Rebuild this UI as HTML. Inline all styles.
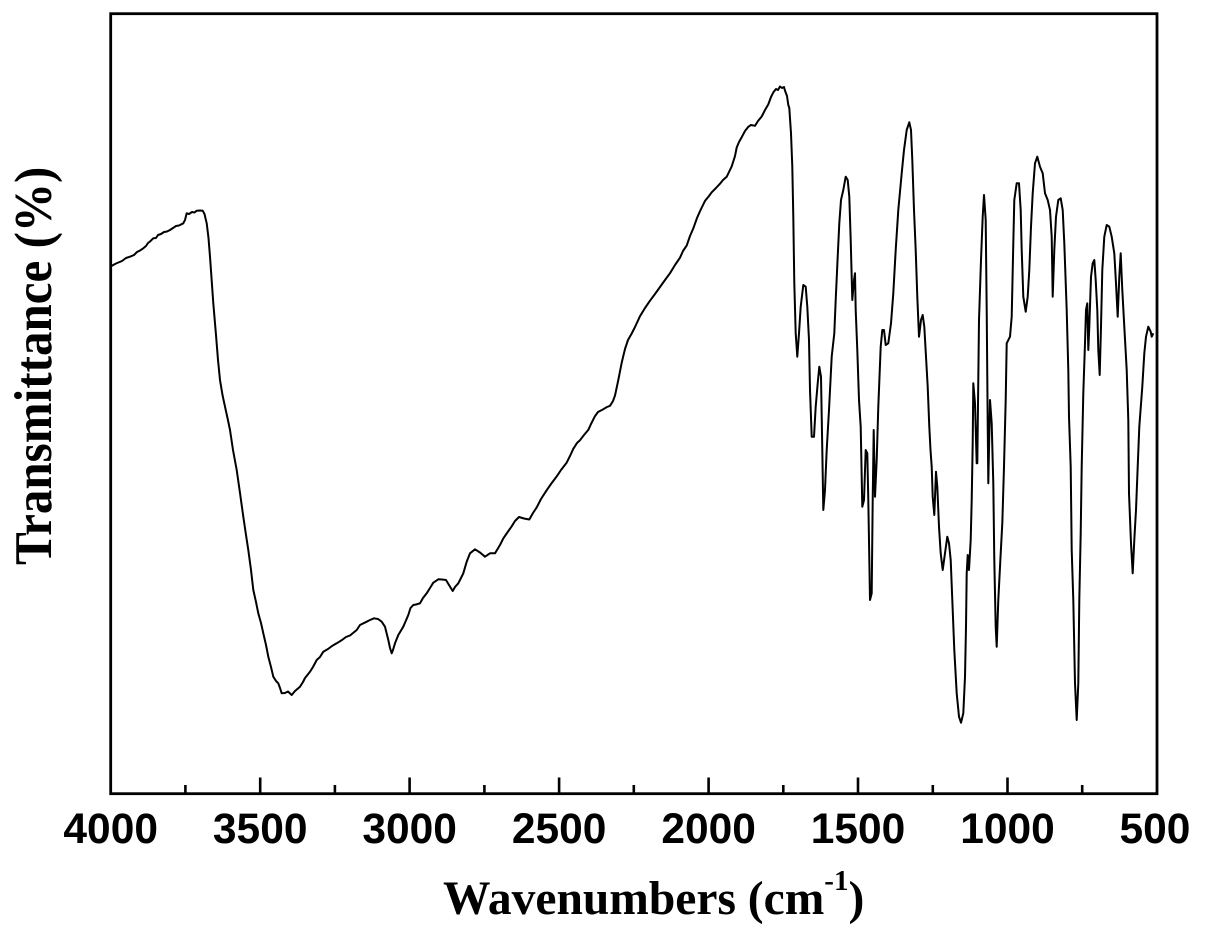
<!DOCTYPE html>
<html>
<head>
<meta charset="utf-8">
<style>
html,body{margin:0;padding:0;background:#fff;}
svg{display:block;}
</style>
</head>
<body>
<svg width="1206" height="937" viewBox="0 0 1206 937" xmlns="http://www.w3.org/2000/svg">
<rect x="0" y="0" width="1206" height="937" fill="#fff"/>
<!-- frame -->
<rect x="110.7" y="13.7" width="1046.3" height="780" fill="none" stroke="#000" stroke-width="2.8"/>
<!-- ticks -->
<g stroke="#000" stroke-width="2.6">
<line x1="260.2" y1="793.7" x2="260.2" y2="777.5"/>
<line x1="409.6" y1="793.7" x2="409.6" y2="777.5"/>
<line x1="559.1" y1="793.7" x2="559.1" y2="777.5"/>
<line x1="708.6" y1="793.7" x2="708.6" y2="777.5"/>
<line x1="858.0" y1="793.7" x2="858.0" y2="777.5"/>
<line x1="1007.5" y1="793.7" x2="1007.5" y2="777.5"/>
<line x1="185.4" y1="793.7" x2="185.4" y2="785"/>
<line x1="334.9" y1="793.7" x2="334.9" y2="785"/>
<line x1="484.4" y1="793.7" x2="484.4" y2="785"/>
<line x1="633.8" y1="793.7" x2="633.8" y2="785"/>
<line x1="783.3" y1="793.7" x2="783.3" y2="785"/>
<line x1="932.8" y1="793.7" x2="932.8" y2="785"/>
<line x1="1082.2" y1="793.7" x2="1082.2" y2="785"/>
</g>
<!-- tick labels -->
<g font-family="'Liberation Sans', Arial, sans-serif" font-weight="bold" font-size="42.5" text-anchor="middle" fill="#000">
<text x="110.7" y="843">4000</text>
<text x="260.2" y="843">3500</text>
<text x="409.6" y="843">3000</text>
<text x="559.1" y="843">2500</text>
<text x="708.6" y="843">2000</text>
<text x="858.0" y="843">1500</text>
<text x="1007.5" y="843">1000</text>
<text x="1155" y="843">500</text>
</g>
<!-- x title -->
<text x="443" y="914" font-family="'Liberation Serif', 'Times New Roman', serif" font-weight="bold" font-size="47.5" fill="#000">Wavenumbers (cm<tspan font-size="29" dy="-24">-1</tspan><tspan font-size="47.5" dy="24">)</tspan></text>
<!-- y title -->
<text transform="translate(51,565) rotate(-90) scale(0.926,1)" x="0" y="0" font-family="'Liberation Serif', 'Times New Roman', serif" font-weight="bold" font-size="53" fill="#000">Transmittance (%)</text>
<!-- spectrum -->
<polyline fill="none" stroke="#000" stroke-width="2" stroke-linejoin="round" points="
110,266.7 116,263.5 122,261 126,258 130,256.7 134,255 137,252 140,250.5 143.3,248.3 146,246 148,243 150,241.5 153.3,238.3 156,238 158,235 161,234 164,232 167,231.5 170,230 173,228 176,226 179,225.5 183.3,223.3 185,220 186.7,213.3 189,214 192,212 194.5,212.5 196.7,210.7 200,210.5 202.7,210.7 204.5,214 206.7,223.3 208.5,238 210,256.7 213.3,303.3 216,335 218,360 220,380 222.5,395 225,406.7 227.5,418 230,430 233,450 236.7,470 240,493 243.3,516.7 246,535 248.3,550 251,570 253.3,590 256,602 258.3,613.3 261,623 263.3,633.3 266,645 268.3,656.7 271,667 273.3,676.7 276,681 278.3,683.3 280,688 281.7,693.3 285,693 288,691.5 291.7,695 295,691 300,686.7 303,682 305,678 310,671.7 313,667 316.7,660 320,657 323.3,651.7 328,649 332,646 336.7,643.3 342,640 346,637 350,635.5 356.7,630 360,625 366.7,621.7 370,620 374,618.3 378,619 381.7,621.7 385,626.7 388.3,640 390,648 391.7,653.3 393,650 395,643.3 398.3,635 403.3,626.7 408.3,615 410.5,608 413.3,605 416,604.5 420,603.3 423,598 426.7,593.3 430,588 433.3,582.7 438.3,579.3 442,579.5 446,580 449,585 452.7,591 455,587 458.3,583.3 461,578 463.3,573.3 466.7,561.7 470,553.3 475,549.3 480,552.5 485,556.7 490,553.3 495,553.3 500,545 503.3,538.4 507,533 511.7,526.3 515,521 519,517 524,518.5 529.3,519.5 533,513 536.7,507.4 541,499 546.7,490.2 551,484 556.7,476.4 561,470 566.7,462.6 570,456 573.3,448.8 577,443 580,440.2 584,435 588.3,429.9 591,424 595,416.1 598,412 603.3,409.2 607,407 610,405.8 613,401 615,395.5 618.3,380 621.7,362.7 625,349 628,340 631.7,333.5 635,327 640,316.2 645,308 650,300.7 655,294 660,287 665,280 670,273.2 675,265 680,257.7 683,251 686.7,245.6 690,236 693.3,228.4 697,218 700,211.2 703,205 705,200.9 709,196 711.7,192.3 716,188 720,183.7 723,180 726.7,176.8 729,172 731.7,166.4 735,156.1 736.7,147.5 739,142 741.7,137.2 745,131 748.3,126.8 751,125 755,125.8 758,121 761.7,116.5 765,110 768.3,104.4 771,97 773.3,92.4 776,89 778,90 780,86.5 782,88 784,87 785,90.7 787,96 788.3,105 789.3,108 791,133.3 792.3,166.7 793.3,216.7 794.3,283.3 795.7,333.3 797.3,356.7 799,333.3 800.7,306.7 803.3,285 805.7,286.7 807.3,306.7 809,340 810,390 811.7,436.7 814,436.7 815.7,406.7 817.7,383.3 819.3,366.7 821,376.7 822.3,450 823.3,510 825,490 826.7,450 829,410 831.7,356.7 834.3,333.3 835.7,300 837.7,256.7 839.3,223.3 841,200 843.3,190 845.7,176.7 847.7,180 849.3,196.7 850.7,240 852.3,300 854,280 855,273.3 855.7,310 857.3,350 859,400 860.7,426.7 862.3,506.7 864,500 865.7,450 867.3,453.3 868.3,500 870,600 871.7,593.3 872.7,500 873.7,430 875,496.7 876.7,460 878.3,406.7 880.7,346.7 882.3,330 884,330 885.7,345 888.3,343.3 891,323.3 893.3,293.3 895.7,250 898.3,210 901.7,173.3 904,150 906.7,130 909.3,122.3 911,130 912.3,160 914,210 915.7,250 917.3,296.7 919,336.7 921,320 922.7,315 924.3,326.7 926,356.7 927.7,386.7 929.3,426.7 930.5,450 931.7,466.7 932.7,496.7 934.3,515 936,471.7 937.3,486.7 939,526.7 940.7,553.3 942.7,570 945,553.3 947.3,536.7 949,543.3 950.7,560 952.3,600 954.3,650 956.7,693.3 959,716.7 961,722.7 963.3,713.3 965,676.7 966,626.7 966.7,573.3 967.7,555 969,570 970.7,540 971.7,500 972.7,443.3 973.3,383.3 975,403.3 976.7,463.3 977.3,463.3 979,320 981,260 982.7,216.7 984,195 985.7,220 986.7,310 987.7,423.3 988.3,483.3 990,400 991.7,423.3 993.3,483.3 994.3,560 995.7,626.7 996.7,646.7 998.3,600 1000.7,553.3 1002.3,523.3 1004,466.7 1005.7,400 1006.7,343.3 1010,336.7 1011.7,316.7 1013.3,243.3 1014.3,200 1016.7,183.3 1019,183.3 1020.7,210 1021.7,250 1023.3,296.7 1025.7,311.7 1027.7,296.7 1029.3,270 1031,226.7 1032.7,193.3 1035,163.3 1037.3,156.7 1040,166.7 1042.7,173.3 1045,193.3 1047.7,200 1050,210 1051.7,236.7 1052.7,296.7 1054.3,250 1056,216.7 1058.3,200 1060.7,198.3 1062.7,210 1064.3,243.3 1066.7,310 1068.3,370 1069,416.7 1070.7,466.7 1071.7,550 1073.3,600 1075,683.3 1076.7,720 1078.3,683.3 1079.3,600 1080.7,533.3 1081.7,466.7 1083.3,393.3 1085,343.3 1086,310 1087.3,303.3 1088.3,350 1089.3,326.7 1091,276.7 1092.7,263.3 1094.3,260 1095.7,280 1097.3,310 1098.3,350 1099.7,375 1101,326.7 1102.3,270 1104.3,236.7 1106.7,225 1109.3,226.7 1111.7,236.7 1114.3,253.3 1116,283.3 1117.7,316.7 1119.3,276.7 1120.7,253.3 1122.3,290 1124.3,326.7 1126.7,370 1128.3,420 1129,493.3 1131,543.3 1132.7,573.3 1134.3,540 1136,510 1137.7,466.7 1139.3,426.7 1142.3,386.7 1144.3,353.3 1146,336.7 1148.3,326.7 1150.7,331.7 1151.7,336.7 1153.3,333.3"/>
</svg>
</body>
</html>
